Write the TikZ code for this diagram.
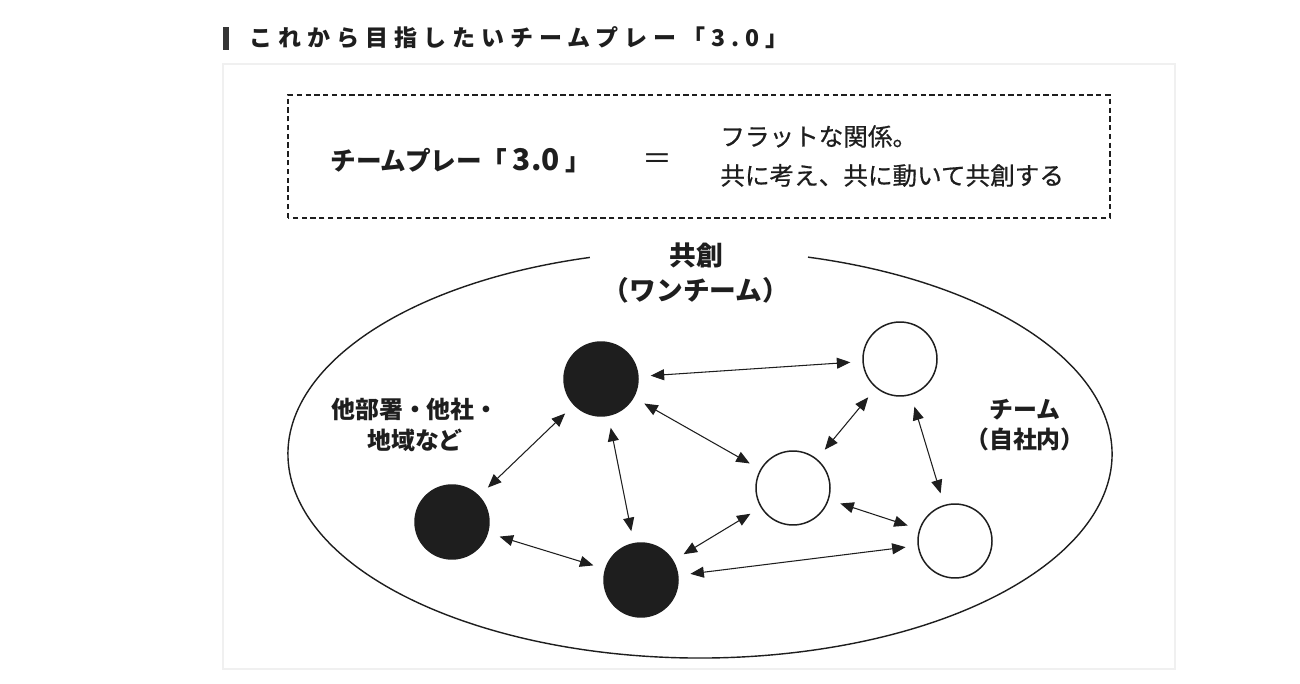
\documentclass[tikz,border=0pt]{standalone}
\usepackage{fontspec}
\setmainfont{Noto Sans CJK JP}
\usepackage{tikz}
\usetikzlibrary{arrows.meta}

\definecolor{ink}{HTML}{1E1E1E}
\definecolor{panelline}{HTML}{F0F0F0}

\newcommand{\ttlfont}{\fontsize{13.1pt}{15pt}\selectfont\bfseries\addfontfeature{LetterSpace=26}}
\newcommand{\boxfont}{\fontsize{14.6pt}{17pt}\selectfont\bfseries}
\newcommand{\notefont}{\fontsize{14pt}{22.2pt}\selectfont\addfontfeature{FakeBold=0.6}}
\newcommand{\lblfont}{\fontsize{15.2pt}{20pt}\selectfont\bfseries}
\newcommand{\sidefont}{\fontsize{13.6pt}{17.2pt}\selectfont\bfseries}

\begin{document}
\begin{tikzpicture}[x=0.02cm,y=0.02cm,
		member/.style={shape=circle,draw=ink,line width=0.85pt,minimum size=1.48cm,inner sep=0pt},
		outside/.style={member,fill=ink},
		inside/.style={member,fill=white},
		link/.style={{Triangle[length=0.27cm,width=0.22cm]}-{Triangle[length=0.27cm,width=0.22cm]},
			draw=ink,line width=0.6pt,shorten >=0.24cm,shorten <=0.24cm},
		label/.style={text=ink,align=center,inner sep=0pt}]
		\useasboundingbox (0,0) rectangle (1300,683);
		\fill[white] (0,0) rectangle (1300,683);
		
		% title
		\fill[ink!90] (223,633) rectangle (229,656);
		\node[anchor=west,inner sep=0pt,text=ink,font=\ttlfont] (Title) at (249,645) {これから目指したいチームプレー「3.0」};
		\draw[panelline,line width=0.6pt] (223,14) rectangle (1175,619);
		
		% definition box
		\draw[ink,line width=0.6pt,dash pattern=on 3pt off 2pt] (288,465) rectangle (1110,588);
		\node[label,anchor=west,font=\boxfont] (Play) at (330,522) {チームプレー「\hspace{3pt}{\fontsize{17pt}{17pt}\selectfont 3.0}\hspace{3pt}」};
		\node[label,font=\fontsize{17pt}{17pt}\selectfont] (Equal) at (657,521) {＝};
		\node[label,anchor=west,align=left,font=\notefont] (Note) at (720,527) {フラットな関係。\\共に考え、共に動いて共創する};
		
		% one team
		\draw[ink,line width=0.8pt] (700,229) ++(105.5:412 and 204) arc[start angle=105.5,end angle=434.8,x radius=412,y radius=204];
		\node[label,font=\lblfont] (OneTeam) at (696,410) {共創\\（ワンチーム）};
		\node[label,font=\sidefont] (Others) at (415,258) {他部署・他社・\\地域など};
		\node[label,font=\sidefont] (Team) at (1025,258) {チーム\\（自社内）};
		
		\node[outside] (Black1) at (601,304) {};
		\node[outside] (Black2) at (452,161) {};
		\node[outside] (Black3) at (641,103) {};
		\node[inside] (White1) at (900,324) {};
		\node[inside] (White2) at (793,195) {};
		\node[inside] (White3) at (955,142) {};
		
		\foreach \a/\b in {Black1/White1,Black1/White2,Black1/Black3,Black1/Black2,Black2/Black3,
			Black3/White2,Black3/White3,White2/White1,White1/White3,White2/White3}{
			\draw[link] (\a) -- (\b);
		}
		
\end{tikzpicture}
\end{document}
